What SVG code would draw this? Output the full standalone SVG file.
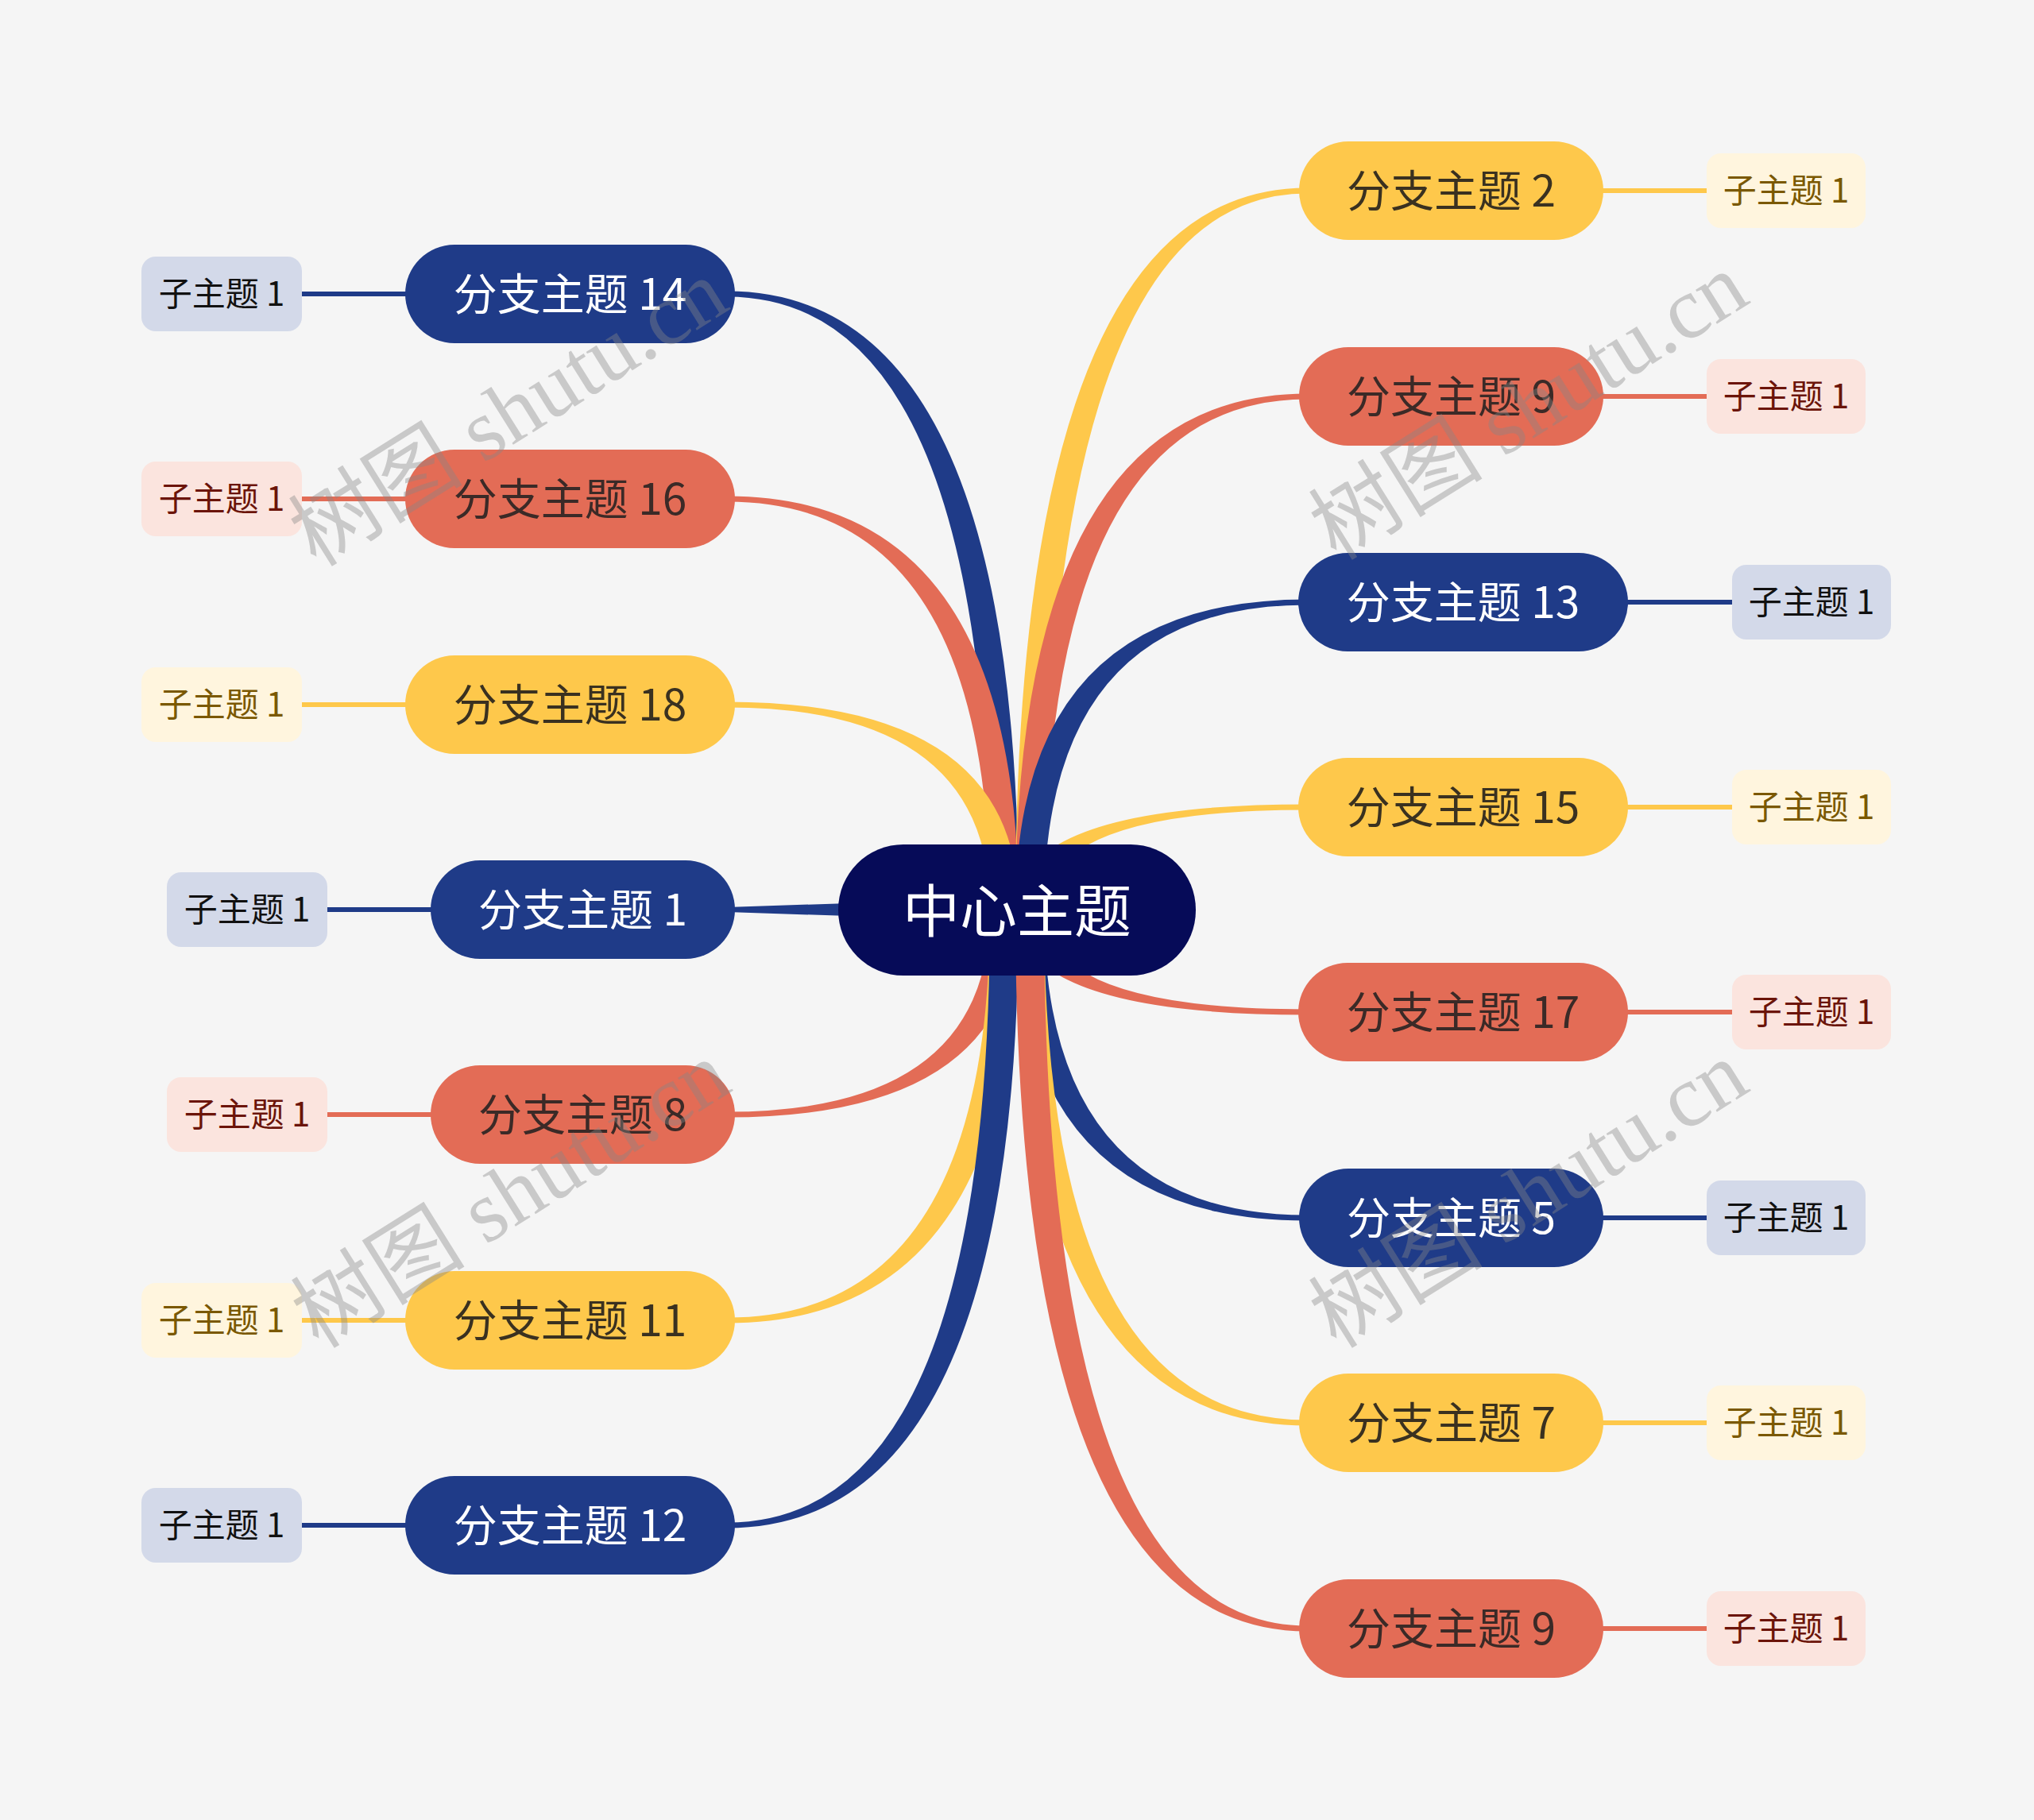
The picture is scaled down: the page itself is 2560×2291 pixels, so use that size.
<svg xmlns="http://www.w3.org/2000/svg" width="2560" height="2291" viewBox="0 0 2560 2291">
<style>
.bg{fill:#f5f5f5}
.cb{fill:#1f3b88}.co{fill:#e36c56}.cy{fill:#fec84b}
.sb{stroke:#1f3b88}.so{stroke:#e36c56}.sy{stroke:#fec84b}
.sub{stroke-width:6;fill:none}
.nb{fill:#1f3b88}.no{fill:#e36c56}.ny{fill:#fec84b}
.kb{fill:#d3d9e9}.ko{fill:#fbe4de}.ky{fill:#fff5de}
.t{font-family:"Noto Sans CJK SC","Noto Sans",sans-serif;text-anchor:middle;dominant-baseline:central}
.tb{font-size:55px;fill:#ffffff}.to{font-size:55px;fill:#3b2a27}.ty{font-size:55px;fill:#3a3120}
.kbt{font-size:42px;fill:#111111}.kot{font-size:42px;fill:#6b1409}.kyt{font-size:42px;fill:#7a5800}
.wm{font-family:"Liberation Serif","Noto Sans CJK SC",serif;font-size:110px;fill:#888888;fill-opacity:0.4;text-anchor:middle;dominant-baseline:central}
</style>
<rect class="bg" x="0" y="0" width="2560" height="2291"/>
<g id="connectors">
<path class="cb" d="M1282,1145 Q1282,366.5 915,366.5 L915,373.5 Q1246,373.5 1246,1145 Z"/>
<path class="co" d="M1282,1145 Q1282,624.5 915,624.5 L915,631.5 Q1246,631.5 1246,1145 Z"/>
<path class="cy" d="M1282,1145 Q1282,883.5 915,883.5 L915,890.5 Q1246,890.5 1246,1145 Z"/>
<path class="cb" d="M1280,1130 L915,1142 L915,1148 L1280,1160 Z"/>
<path class="co" d="M1282,1145 Q1282,1406.5 915,1406.5 L915,1399.5 Q1246,1399.5 1246,1145 Z"/>
<path class="cy" d="M1282,1145 Q1282,1665.5 915,1665.5 L915,1658.5 Q1246,1658.5 1246,1145 Z"/>
<path class="cb" d="M1282,1145 Q1282,1923.5 915,1923.5 L915,1916.5 Q1246,1916.5 1246,1145 Z"/>
<path class="cy" d="M1278,1145 Q1278,236.5 1645,236.5 L1645,243.5 Q1314,243.5 1314,1145 Z"/>
<path class="co" d="M1278,1145 Q1278,495.5 1645,495.5 L1645,502.5 Q1314,502.5 1314,1145 Z"/>
<path class="cb" d="M1278,1145 Q1278,754.5 1645,754.5 L1645,761.5 Q1314,761.5 1314,1145 Z"/>
<path class="cy" d="M1278,1145 Q1278,1012.5 1645,1012.5 L1645,1019.5 Q1314,1019.5 1314,1145 Z"/>
<path class="co" d="M1278,1145 Q1278,1277.5 1645,1277.5 L1645,1270.5 Q1314,1270.5 1314,1145 Z"/>
<path class="cb" d="M1278,1145 Q1278,1536.5 1645,1536.5 L1645,1529.5 Q1314,1529.5 1314,1145 Z"/>
<path class="cy" d="M1278,1145 Q1278,1794.5 1645,1794.5 L1645,1787.5 Q1314,1787.5 1314,1145 Z"/>
<path class="co" d="M1278,1145 Q1278,2053.5 1645,2053.5 L1645,2046.5 Q1314,2046.5 1314,1145 Z"/>
<line class="sub sb" x1="370" y1="370" x2="520" y2="370"/>
<line class="sub so" x1="370" y1="628" x2="520" y2="628"/>
<line class="sub sy" x1="370" y1="887" x2="520" y2="887"/>
<line class="sub sb" x1="402" y1="1145" x2="552" y2="1145"/>
<line class="sub so" x1="402" y1="1403" x2="552" y2="1403"/>
<line class="sub sy" x1="370" y1="1662" x2="520" y2="1662"/>
<line class="sub sb" x1="370" y1="1920" x2="520" y2="1920"/>
<line class="sub sy" x1="2008" y1="240" x2="2158" y2="240"/>
<line class="sub so" x1="2008" y1="499" x2="2158" y2="499"/>
<line class="sub sb" x1="2039" y1="758" x2="2190" y2="758"/>
<line class="sub sy" x1="2039" y1="1016" x2="2190" y2="1016"/>
<line class="sub so" x1="2039" y1="1274" x2="2190" y2="1274"/>
<line class="sub sb" x1="2008" y1="1533" x2="2158" y2="1533"/>
<line class="sub sy" x1="2008" y1="1791" x2="2158" y2="1791"/>
<line class="sub so" x1="2008" y1="2050" x2="2158" y2="2050"/>
</g>
<g id="center">
<rect x="1055" y="1063" width="450" height="165" rx="82" fill="#060b58"/>
<text class="t" x="1280" y="1141" font-size="72" fill="#ffffff">中心主题</text>
</g>
<g id="b14"><rect class="nb" x="510" y="308" width="415" height="124" rx="62"/><text class="t tb" x="717.5" y="366">分支主题 14</text></g>
<g id="b16"><rect class="no" x="510" y="566" width="415" height="124" rx="62"/><text class="t to" x="717.5" y="624">分支主题 16</text></g>
<g id="b18"><rect class="ny" x="510" y="825" width="415" height="124" rx="62"/><text class="t ty" x="717.5" y="883">分支主题 18</text></g>
<g id="b1"><rect class="nb" x="542" y="1083" width="383" height="124" rx="62"/><text class="t tb" x="733.5" y="1141">分支主题 1</text></g>
<g id="b8"><rect class="no" x="542" y="1341" width="383" height="124" rx="62"/><text class="t to" x="733.5" y="1399">分支主题 8</text></g>
<g id="b11"><rect class="ny" x="510" y="1600" width="415" height="124" rx="62"/><text class="t ty" x="717.5" y="1658">分支主题 11</text></g>
<g id="b12"><rect class="nb" x="510" y="1858" width="415" height="124" rx="62"/><text class="t tb" x="717.5" y="1916">分支主题 12</text></g>
<g id="b2"><rect class="ny" x="1635" y="178" width="383" height="124" rx="62"/><text class="t ty" x="1826.5" y="236">分支主题 2</text></g>
<g id="b9a"><rect class="no" x="1635" y="437" width="383" height="124" rx="62"/><text class="t to" x="1826.5" y="495">分支主题 9</text></g>
<g id="b13"><rect class="nb" x="1634" y="696" width="415" height="124" rx="62"/><text class="t tb" x="1841.5" y="754">分支主题 13</text></g>
<g id="b15"><rect class="ny" x="1634" y="954" width="415" height="124" rx="62"/><text class="t ty" x="1841.5" y="1012">分支主题 15</text></g>
<g id="b17"><rect class="no" x="1634" y="1212" width="415" height="124" rx="62"/><text class="t to" x="1841.5" y="1270">分支主题 17</text></g>
<g id="b5"><rect class="nb" x="1635" y="1471" width="383" height="124" rx="62"/><text class="t tb" x="1826.5" y="1529">分支主题 5</text></g>
<g id="b7"><rect class="ny" x="1635" y="1729" width="383" height="124" rx="62"/><text class="t ty" x="1826.5" y="1787">分支主题 7</text></g>
<g id="b9b"><rect class="no" x="1635" y="1988" width="383" height="124" rx="62"/><text class="t to" x="1826.5" y="2046">分支主题 9</text></g>
<g id="s14"><rect class="kb" x="178" y="323" width="202" height="94" rx="18"/><text class="t kbt" x="279" y="366">子主题 1</text></g>
<g id="s16"><rect class="ko" x="178" y="581" width="202" height="94" rx="18"/><text class="t kot" x="279" y="624">子主题 1</text></g>
<g id="s18"><rect class="ky" x="178" y="840" width="202" height="94" rx="18"/><text class="t kyt" x="279" y="883">子主题 1</text></g>
<g id="s1"><rect class="kb" x="210" y="1098" width="202" height="94" rx="18"/><text class="t kbt" x="311" y="1141">子主题 1</text></g>
<g id="s8"><rect class="ko" x="210" y="1356" width="202" height="94" rx="18"/><text class="t kot" x="311" y="1399">子主题 1</text></g>
<g id="s11"><rect class="ky" x="178" y="1615" width="202" height="94" rx="18"/><text class="t kyt" x="279" y="1658">子主题 1</text></g>
<g id="s12"><rect class="kb" x="178" y="1873" width="202" height="94" rx="18"/><text class="t kbt" x="279" y="1916">子主题 1</text></g>
<g id="s2"><rect class="ky" x="2148" y="193" width="200" height="94" rx="18"/><text class="t kyt" x="2248" y="236">子主题 1</text></g>
<g id="s9a"><rect class="ko" x="2148" y="452" width="200" height="94" rx="18"/><text class="t kot" x="2248" y="495">子主题 1</text></g>
<g id="s13"><rect class="kb" x="2180" y="711" width="200" height="94" rx="18"/><text class="t kbt" x="2280" y="754">子主题 1</text></g>
<g id="s15"><rect class="ky" x="2180" y="969" width="200" height="94" rx="18"/><text class="t kyt" x="2280" y="1012">子主题 1</text></g>
<g id="s17"><rect class="ko" x="2180" y="1227" width="200" height="94" rx="18"/><text class="t kot" x="2280" y="1270">子主题 1</text></g>
<g id="s5"><rect class="kb" x="2148" y="1486" width="200" height="94" rx="18"/><text class="t kbt" x="2248" y="1529">子主题 1</text></g>
<g id="s7"><rect class="ky" x="2148" y="1744" width="200" height="94" rx="18"/><text class="t kyt" x="2248" y="1787">子主题 1</text></g>
<g id="s9b"><rect class="ko" x="2148" y="2003" width="200" height="94" rx="18"/><text class="t kot" x="2248" y="2046">子主题 1</text></g>
<g id="watermarks">
<text class="wm" transform="translate(640,520) rotate(-32)">树图 shutu.cn</text>
<text class="wm" transform="translate(1924,512) rotate(-32)">树图 shutu.cn</text>
<text class="wm" transform="translate(643,1504) rotate(-32)">树图 shutu.cn</text>
<text class="wm" transform="translate(1924,1504) rotate(-32)">树图 shutu.cn</text>
</g>
</svg>
